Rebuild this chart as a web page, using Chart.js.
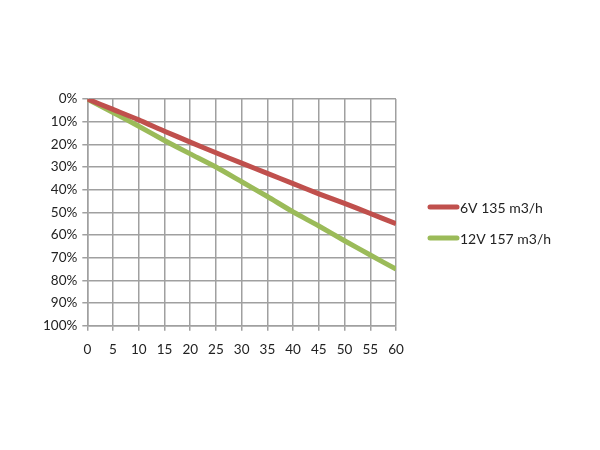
<!DOCTYPE html>
<html>
<head>
<meta charset="utf-8">
<script src="https://cdn.jsdelivr.net/npm/chart.js@4.4.0/dist/chart.umd.min.js"></script>
<style>
    html, body { margin: 0; padding: 0; background: #fff; }
    #wrap { width: 600px; height: 450px; position: relative; }
</style>
</head>
<body>
<div id="wrap"><canvas id="chart"></canvas></div>
<script>
// Flow (x) values and the drop in %
const xValues = [0, 5, 10, 15, 20, 25, 30, 35, 40, 45, 50, 55, 60];
const series6V = [0, 4.6, 9.2, 14.2, 19, 23.7, 28.3, 32.8, 37.3, 41.8, 46, 50.5, 55];
const series12V = [0, 6, 12, 18.3, 24.2, 30, 36.5, 43, 49.8, 56, 62.5, 68.8, 75];
const seriesLabels = ['6V 135 m3/h', '12V 157 m3/h'];
const seriesColors = ['#c0504d', '#9bbb59'];

const toPoints = (ys) => xValues.map((x, i) => ({ x: x, y: ys[i] }));

const fontFamily = 'Lato, "Open Sans", sans-serif';
const fontSpec = { family: fontFamily, size: 13.5 };
const gridColor = '#a0a0a0';

// Legend to the right of the plot, drawn next to the chart area
const sideLegend = {
    id: 'sideLegend',
    afterDraw(chart) {
        const { ctx, chartArea } = chart;
        const x0 = chartArea.right + 34;
        const y0 = chartArea.top + 108;
        ctx.save();
        ctx.font = '14px ' + fontFamily;
        ctx.textBaseline = 'middle';
        chart.data.datasets.forEach((ds, i) => {
            const y = y0 + i * 31;
            ctx.strokeStyle = ds.borderColor;
            ctx.lineWidth = 5;
            ctx.lineCap = 'round';
            ctx.beginPath();
            ctx.moveTo(x0, y);
            ctx.lineTo(x0 + 27, y);
            ctx.stroke();
            ctx.fillStyle = '#222';
            ctx.fillText(ds.label, x0 + 30, y + 1);
        });
        ctx.restore();
    }
};

new Chart(document.getElementById('chart'), {
    type: 'line',
    data: {
        datasets: [series6V, series12V].map((ys, i) => ({
            label: seriesLabels[i],
            data: toPoints(ys),
            borderColor: seriesColors[i],
            backgroundColor: seriesColors[i],
            borderWidth: 5,
            pointRadius: 0,
            tension: 0.2,
            fill: false
        }))
    },
    options: {
        responsive: true,
        maintainAspectRatio: false,
        animation: false,
        layout: {
            padding: { top: 99, bottom: 81, left: 38, right: 204 }
        },
        plugins: {
            legend: { display: false },
            tooltip: { enabled: false }
        },
        scales: {
            x: {
                type: 'linear',
                min: 0,
                max: 60,
                ticks: { stepSize: 5, color: '#222', font: fontSpec, padding: 11 },
                grid: { color: gridColor, lineWidth: 1.5, tickLength: 5 },
                border: { color: gridColor, width: 1.5 }
            },
            y: {
                reverse: true,
                min: 0,
                max: 100,
                ticks: {
                    stepSize: 10,
                    color: '#222',
                    font: fontSpec,
                    padding: 5,
                    callback: (v) => v + '%'
                },
                grid: { color: gridColor, lineWidth: 1.5, tickLength: 5 },
                border: { color: gridColor, width: 1.5 }
            }
        }
    },
    plugins: [sideLegend]
});
</script>
</body>
</html>
